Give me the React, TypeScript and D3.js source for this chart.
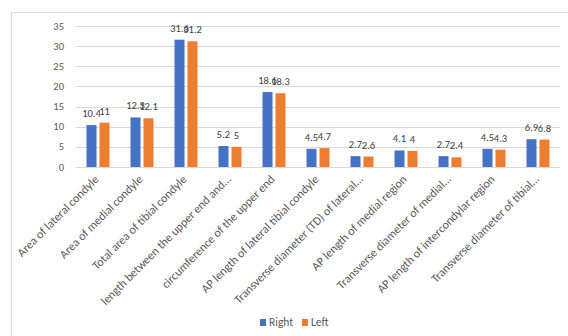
import React from "react";
import * as d3 from "d3";

const categories = [
  "Area of lateral condyle",
  "Area of medial condyle",
  "Total area of tibial condyle",
  "length between the upper end and…",
  "circumference of the upper end",
  "AP length of lateral tibial condyle",
  "Transverse diameter (TD) of lateral…",
  "AP length of medial region",
  "Transverse diameter of medial…",
  "AP length of intercondylar region",
  "Transverse diameter of tibial…",
];
const rightValues = [10.4, 12.3, 31.6, 5.2, 18.6, 4.5, 2.7, 4.1, 2.7, 4.5, 6.9];
const leftValues = [11, 12.1, 31.2, 5, 18.3, 4.7, 2.6, 4, 2.4, 4.3, 6.8];
const yTicks = [0, 5, 10, 15, 20, 25, 30, 35];
const seriesNames = ["Right", "Left"];
const colors = ["#4472C4", "#ED7D31"];

const FONT = "Carlito, Calibri, 'Liberation Sans', sans-serif";

export default function App() {
  const W = 568, H = 336;
  const plotL = 76, plotR = 560, top = 26, base = 167;
  const x = d3.scaleBand<string>().domain(categories).range([plotL, plotR]).padding(0);
  const y = d3.scaleLinear().domain([0, 35]).range([base, top]);
  const bw = 10;
  const series = [rightValues, leftValues];
  const offs = [-11.5, 1.5];
  return (
    <svg width={W} height={H} style={{ position: "absolute", left: 0, top: 0, background: "#fff" }}>
      <rect x={11.5} y={12.5} width={600} height={400} fill="#fff" stroke="#d9d9d9" />
      {yTicks.map((t) => (
        <g key={t}>
          <line x1={plotL} x2={plotR} y1={Math.round(y(t)) + 0.5} y2={Math.round(y(t)) + 0.5} stroke="#d9d9d9" />
          <text x={64} y={y(t) + 3.5} textAnchor="end" fontSize={10.5} fill="#595959" fontFamily={FONT}>
            {t}
          </text>
        </g>
      ))}
      {categories.map((c, i) => {
        const cx = (x(c) as number) + x.bandwidth() / 2;
        return (
          <g key={c}>
            {series.map((s, k) => (
              <g key={k}>
                <rect x={cx + offs[k]} y={y(s[i])} width={bw} height={base - y(s[i])} fill={colors[k]} />
                <text x={cx + offs[k] + bw / 2} y={y(s[i]) - 8} textAnchor="middle" fontSize={10.5} fill="#404040" fontFamily={FONT}>
                  {s[i]}
                </text>
              </g>
            ))}
            <text
              transform={`translate(${cx + 1.5},${base + 13}) rotate(-45)`}
              textAnchor="end"
              fontSize={12}
              fill="#595959"
              fontFamily={FONT}
            >
              {c}
            </text>
          </g>
        );
      })}
      <g fontFamily={FONT} fontSize={11.5} fill="#595959">
        <rect x={260} y={319} width={6} height={7} fill={colors[0]} />
        <text x={269} y={326}>{seriesNames[0]}</text>
        <rect x={302} y={319} width={6} height={7} fill={colors[1]} />
        <text x={311} y={326}>{seriesNames[1]}</text>
      </g>
    </svg>
  );
}
